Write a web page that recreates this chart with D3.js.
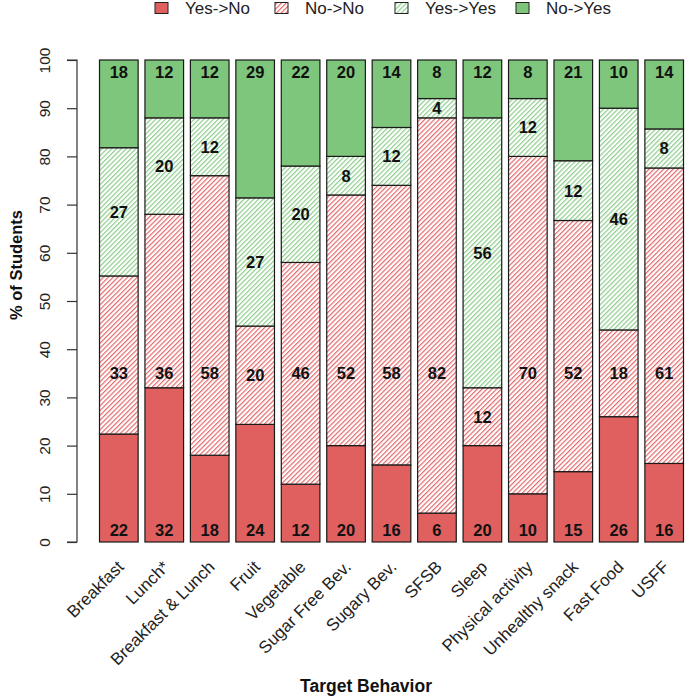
<!DOCTYPE html>
<html>
<head>
<meta charset="utf-8">
<script src="https://cdn.jsdelivr.net/npm/d3@7"></script>
<style>
  body { margin: 0; background: #fff; }
  svg { display: block; font-family: "Liberation Sans", Arial, Helvetica, sans-serif; }
</style>
</head>
<body>
<svg id="chart" width="685" height="700"></svg>
<script>
const categories = ["Breakfast", "Lunch*", "Breakfast & Lunch", "Fruit", "Vegetable",
  "Sugar Free Bev.", "Sugary Bev.", "SFSB", "Sleep", "Physical activity",
  "Unhealthy snack", "Fast Food", "USFF"];
const seriesNames = ["Yes->No", "No->No", "Yes->Yes", "No->Yes"];
const yesNo   = [22.4, 32, 18, 24.4, 12, 20, 16, 6, 20, 10, 14.6, 26, 16.3];
const noNo    = [32.8, 36, 58, 20.4, 46, 52, 58, 82, 12, 70, 52.1, 18, 61.3];
const yesYes  = [26.6, 20, 12, 26.6, 20, 8, 12, 4, 56, 12, 12.4, 46, 8.1];
const noYes   = [18.2, 12, 12, 28.6, 22, 20, 14, 8, 12, 8, 20.9, 10, 14.3];
const yTicks  = [0, 10, 20, 30, 40, 50, 60, 70, 80, 90, 100];

const red = "#E0605F", green = "#7DC67B";
const redLine = "#E46A6C", greenLine = "#8ECD8C";

const svg = d3.select("#chart");
const defs = svg.append("defs");
function hatch(id, col) {
  const s = 3.4;
  const p = defs.append("pattern").attr("id", id).attr("patternUnits", "userSpaceOnUse")
    .attr("width", s).attr("height", s).attr("patternTransform", "rotate(45)");
  p.append("rect").attr("width", s).attr("height", s).attr("fill", "#fff");
  p.append("line").attr("x1", 0.6).attr("y1", 0).attr("x2", 0.6).attr("y2", s)
    .attr("stroke", col).attr("stroke-width", 1.2);
}
hatch("hRed", redLine);
hatch("hGreen", greenLine);

const fills = [red, "url(#hRed)", "url(#hGreen)", green];

const x = d3.scaleBand().domain(categories).range([99.5, 683.5]).paddingInner(0.15).paddingOuter(0);
const y = d3.scaleLinear().domain([0, 100]).range([542, 60]);

const table = categories.map((c, i) => ({ cat: c, vals: [yesNo[i], noNo[i], yesYes[i], noYes[i]] }));
const stack = d3.stack().keys([0, 1, 2, 3]).value((d, k) => d.vals[k])(table);

// bars
stack.forEach((layer, k) => {
  svg.append("g").selectAll("rect").data(layer).join("rect")
    .attr("x", d => x(d.data.cat))
    .attr("width", x.bandwidth())
    .attr("y", d => y(d[1]))
    .attr("height", d => y(d[0]) - y(d[1]))
    .attr("fill", fills[k])
    .attr("stroke", "#1a1a1a")
    .attr("stroke-width", 1.2);
});

// labels
function labelPos(k, d) {
  const mid = (d[0] + d[1]) / 2;
  if (k === 0) return 2.5;
  if (k === 1) return Math.min(mid, 35);
  if (k === 2) return mid;
  return 97.5;
}
stack.forEach((layer, k) => {
  svg.append("g").selectAll("text").data(layer).join("text")
    .attr("x", d => x(d.data.cat) + x.bandwidth() / 2)
    .attr("y", d => y(labelPos(k, d)))
    .attr("dy", "0.36em")
    .attr("text-anchor", "middle")
    .attr("font-weight", "bold")
    .attr("font-size", 16.5)
    .attr("fill", "#111")
    .text(d => Math.round(d[1] - d[0]));
});

// y axis
const yAxis = d3.axisLeft(y).tickValues(yTicks).tickSize(10).tickPadding(0).tickFormat(d3.format("d"));
const ga = svg.append("g").attr("transform", "translate(77,0)").call(yAxis);
ga.select(".domain").attr("d", `M-10,${y(0)}H0V${y(100)}H-10`).attr("stroke", "#333").attr("stroke-width", 1.2);
ga.selectAll(".tick line").attr("stroke", "#333").attr("stroke-width", 1.2);
ga.selectAll(".tick text")
  .attr("transform", "translate(-33,0) rotate(-90)")
  .attr("x", 0).attr("y", 0).attr("dy", "0.36em")
  .attr("text-anchor", "middle")
  .attr("font-size", 15.5).attr("fill", "#222")
  .attr("font-family", "Liberation Sans, Arial, sans-serif");

// x labels
svg.append("g").selectAll("text").data(categories).join("text")
  .attr("transform", d => `translate(${x(d) + x.bandwidth() / 2 + 6},568) rotate(-45)`)
  .attr("text-anchor", "end")
  .attr("font-size", 17)
  .attr("fill", "#222")
  .text(d => d);

// axis titles
svg.append("text").attr("x", 366).attr("y", 692).attr("text-anchor", "middle")
  .attr("font-weight", "bold").attr("font-size", 17.5).attr("fill", "#111").text("Target Behavior");
svg.append("text").attr("transform", "translate(22,265) rotate(-90)").attr("text-anchor", "middle")
  .attr("font-weight", "bold").attr("font-size", 16.5).attr("fill", "#111").text("% of Students");

// legend
const legX = [155, 275, 395, 516];
const lg = svg.append("g");
seriesNames.forEach((s, i) => {
  lg.append("rect").attr("x", legX[i]).attr("y", 2.5).attr("width", 13).attr("height", 11)
    .attr("fill", fills[i]).attr("stroke", "#222").attr("stroke-width", 1);
  lg.append("text").attr("x", legX[i] + 30).attr("y", 8).attr("dy", "0.36em")
    .attr("font-size", 17).attr("fill", "#222").text(s);
});
</script>
</body>
</html>
